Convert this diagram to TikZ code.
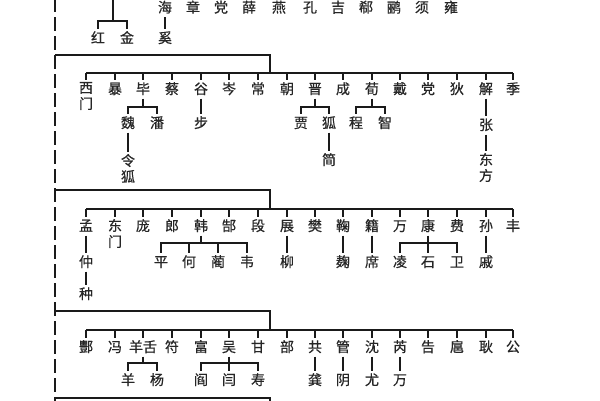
\documentclass[tikz,border=0pt]{standalone}
\usepackage{fontspec}
\newfontfamily\cjk[FakeBold=0.6]{Noto Sans CJK SC}
\definecolor{lnc}{HTML}{1A1A1A}
\definecolor{txt}{HTML}{262626}
\begin{document}
\begin{tikzpicture}[x=1pt,y=-1pt,
  ch/.style={font=\cjk\fontsize{14}{16}\selectfont, text=txt, inner sep=0pt, outer sep=2.5pt, text height=12pt, text depth=2pt},
  chv/.style={ch, align=center, text height={}, text depth={}, anchor=north},
  ln/.style={draw=lnc, line width=1.6pt},
  dln/.style={ln, dash pattern=on 14pt off 5pt}
]
\useasboundingbox (0,0) rectangle (600,400);
\fill[white] (0,0) rectangle (600,400);
\clip (0,0) rectangle (600,400);

% ---------------- top fragment ----------------
\node[ch] (t1) at (165,7.5) {海};
\node[ch] (t2) at (193,7.5) {章};
\node[ch] (t3) at (221,7.5) {党};
\node[ch] (t4) at (249,7.5) {薛};
\node[ch] (t5) at (279,7.5) {燕};
\node[ch] (t6) at (310,7.5) {孔};
\node[ch] (t7) at (338,7.5) {吉};
\node[ch] (t8) at (366,7.5) {郗};
\node[ch] (t9) at (394,7.5) {鹂};
\node[ch] (t10) at (422,7.5) {须};
\node[ch] (t11) at (451,7.5) {雍};
\node[ch] (hong) at (98,38) {红};
\node[ch] (jin) at (127,38) {金};
\node[ch] (xi) at (165,38) {奚};
\coordinate (top0) at (113,-2);
\coordinate (b0) at (113,21);
\draw[ln] (top0) -- (b0);
\draw[ln] (hong.north) |- (jin.north |- b0) -- (jin.north);
\draw[ln] (t1.south) -- (xi.north);

% left dashed spine
\coordinate (dtop) at (55,-2);
\coordinate (dbot) at (55,402);
\draw[dln] (dtop) -- (dbot);

% ---------------- section 1 ----------------
\coordinate (u1) at (55,55);
\coordinate (j1) at (270,73);
\draw[ln] (u1) -| (j1);
\node[chv] (ximen) at (86,79.5) {西\\门};
\node[ch] (bao) at (115,89) {暴};
\node[ch] (bi) at (143,89) {毕};
\node[ch] (cai) at (172,89) {蔡};
\node[ch] (gu) at (201,89) {谷};
\node[ch] (cen) at (229,89) {岑};
\node[ch] (chang) at (258,89) {常};
\node[ch] (chao) at (287,89) {朝};
\node[ch] (jinA) at (315,89) {晋};
\node[ch] (cheng) at (343,89) {成};
\node[ch] (xun) at (372,89) {荀};
\node[ch] (dai) at (400,89) {戴};
\node[ch] (dang) at (428,89) {党};
\node[ch] (di) at (457,89) {狄};
\node[ch] (xie) at (486,89) {解};
\node[ch] (ji) at (513,89) {季};
\draw[ln] (ximen.north |- j1) -- (ji.north |- j1);
\foreach \n in {ximen,bao,bi,cai,gu,cen,chang,chao,jinA,cheng,xun,dai,dang,di,xie,ji}
  \draw[ln] (\n.north |- j1) -- (\n.north);

\coordinate (b1) at (0,107);
\node[ch] (wei) at (128,123) {魏};
\node[ch] (pan) at (157,123) {潘};
\draw[ln] (bi.south) -- (bi.south |- b1);
\draw[ln] (wei.north) |- (pan.north |- b1) -- (pan.north);
\node[chv] (linghu) at (128,151.5) {令\\狐};
\draw[ln] (wei.south) -- (linghu.north);
\node[ch] (bu) at (201,123) {步};
\draw[ln] (gu.south) -- (bu.north);
\node[ch] (jia) at (301,123) {贾};
\node[ch] (hu) at (329,123) {狐};
\draw[ln] (jinA.south) -- (jinA.south |- b1);
\draw[ln] (jia.north) |- (hu.north |- b1) -- (hu.north);
\node[ch] (jian) at (329,160) {简};
\draw[ln] (hu.south) -- (jian.north);
\node[ch] (chg) at (356,123) {程};
\node[ch] (zhi) at (385,123) {智};
\draw[ln] (xun.south) -- (xun.south |- b1);
\draw[ln] (chg.north) |- (zhi.north |- b1) -- (zhi.north);
\node[ch] (zhang) at (486,125) {张};
\draw[ln] (xie.south) -- (zhang.north);
\node[chv] (dongfang) at (486,150.5) {东\\方};
\draw[ln] (zhang.south) -- (dongfang.north);

% ---------------- section 2 ----------------
\coordinate (u2) at (55,190);
\coordinate (j2) at (270,209);
\draw[ln] (u2) -| (j2);
\node[ch] (meng) at (86,226) {孟};
\node[chv] (dongmen) at (115,216.5) {东\\门};
\node[ch] (pang) at (143,226) {庞};
\node[ch] (lang) at (172,226) {郎};
\node[ch] (han) at (201,226) {韩};
\node[ch] (gao) at (229,226) {郜};
\node[ch] (duan) at (258,226) {段};
\node[ch] (zhan) at (287,226) {展};
\node[ch] (fan) at (315,226) {樊};
\node[ch] (ju) at (343,226) {鞠};
\node[ch] (jib) at (372,226) {籍};
\node[ch] (wan) at (400,226) {万};
\node[ch] (kang) at (428,226) {康};
\node[ch] (fei) at (457,226) {费};
\node[ch] (sun) at (486,226) {孙};
\node[ch] (feng) at (513,226) {丰};
\draw[ln] (meng.north |- j2) -- (feng.north |- j2);
\foreach \n in {meng,dongmen,pang,lang,han,gao,duan,zhan,fan,ju,jib,wan,kang,fei,sun,feng}
  \draw[ln] (\n.north |- j2) -- (\n.north);

\node[ch] (zhong) at (86,262) {仲};
\node[ch] (zhongb) at (86,294) {种};
\draw[ln] (meng.south) -- (zhong.north);
\draw[ln] (zhong.south) -- (zhongb.north);
\coordinate (b2) at (0,243);
\node[ch] (ping) at (161,262) {平};
\node[ch] (he) at (189,262) {何};
\node[ch] (lin) at (218,262) {蔺};
\node[ch] (weib) at (247,262) {韦};
\draw[ln] (han.south) -- (han.south |- b2);
\draw[ln] (ping.north) |- (weib.north |- b2) -- (weib.north);
\draw[ln] (he.north |- b2) -- (he.north);
\draw[ln] (lin.north |- b2) -- (lin.north);
\node[ch] (liu) at (287,262) {柳};
\draw[ln] (zhan.south) -- (liu.north);
\node[ch] (qu) at (343,262) {麹};
\draw[ln] (ju.south) -- (qu.north);
\node[ch] (xib) at (372,262) {席};
\draw[ln] (jib.south) -- (xib.north);
\node[ch] (ling) at (400,262) {凌};
\node[ch] (shi) at (428,262) {石};
\node[ch] (weic) at (457,262) {卫};
\draw[ln] (kang.south) -- (shi.north);
\draw[ln] (ling.north) |- (weic.north |- b2) -- (weic.north);
\node[ch] (qi) at (486,262) {戚};
\draw[ln] (sun.south) -- (qi.north);

% ---------------- section 3 ----------------
\coordinate (u3) at (55,311);
\coordinate (j3) at (270,330);
\draw[ln] (u3) -| (j3);
\node[ch] (fengb) at (86,347) {酆};
\node[ch] (fengc) at (115,347) {冯};
\node[ch] (yangshe) at (143,347) {羊舌};
\node[ch] (fu) at (172,347) {符};
\node[ch] (fub) at (201,347) {富};
\node[ch] (wu) at (229,347) {吴};
\node[ch] (gan) at (258,347) {甘};
\node[ch] (bub) at (287,347) {部};
\node[ch] (gong) at (315,347) {共};
\node[ch] (guan) at (343,347) {管};
\node[ch] (shen) at (372,347) {沈};
\node[ch] (rui) at (400,347) {芮};
\node[ch] (gaob) at (428,347) {告};
\node[ch] (hub) at (457,347) {扈};
\node[ch] (geng) at (486,347) {耿};
\node[ch] (gongb) at (513,347) {公};
\draw[ln] (fengb.north |- j3) -- (gongb.north |- j3);
\foreach \n in {fengb,fengc,yangshe,fu,fub,wu,gan,bub,gong,guan,shen,rui,gaob,hub,geng,gongb}
  \draw[ln] (\n.north |- j3) -- (\n.north);

\coordinate (b3) at (0,363);
\node[ch] (yang) at (128,380) {羊};
\node[ch] (yangb) at (157,380) {杨};
\draw[ln] (yangshe.south) -- (yangshe.south |- b3);
\draw[ln] (yang.north) |- (yangb.north |- b3) -- (yangb.north);
\node[ch] (yan) at (201,380) {阎};
\node[ch] (yanb) at (229,380) {闫};
\node[ch] (shou) at (258,380) {寿};
\draw[ln] (wu.south) -- (yanb.north);
\draw[ln] (yan.north) |- (shou.north |- b3) -- (shou.north);
\node[ch] (gongc) at (315,380) {龚};
\draw[ln] (gong.south) -- (gongc.north);
\node[ch] (yin) at (343,380) {阴};
\draw[ln] (guan.south) -- (yin.north);
\node[ch] (you) at (372,380) {尤};
\draw[ln] (shen.south) -- (you.north);
\node[ch] (wanb) at (400,380) {万};
\draw[ln] (rui.south) -- (wanb.north);

% ---------------- section 4 (cut) ----------------
\coordinate (u4) at (55,398);
\coordinate (j4) at (270,410);
\draw[ln] (u4) -| (j4);
\end{tikzpicture}
\end{document}
